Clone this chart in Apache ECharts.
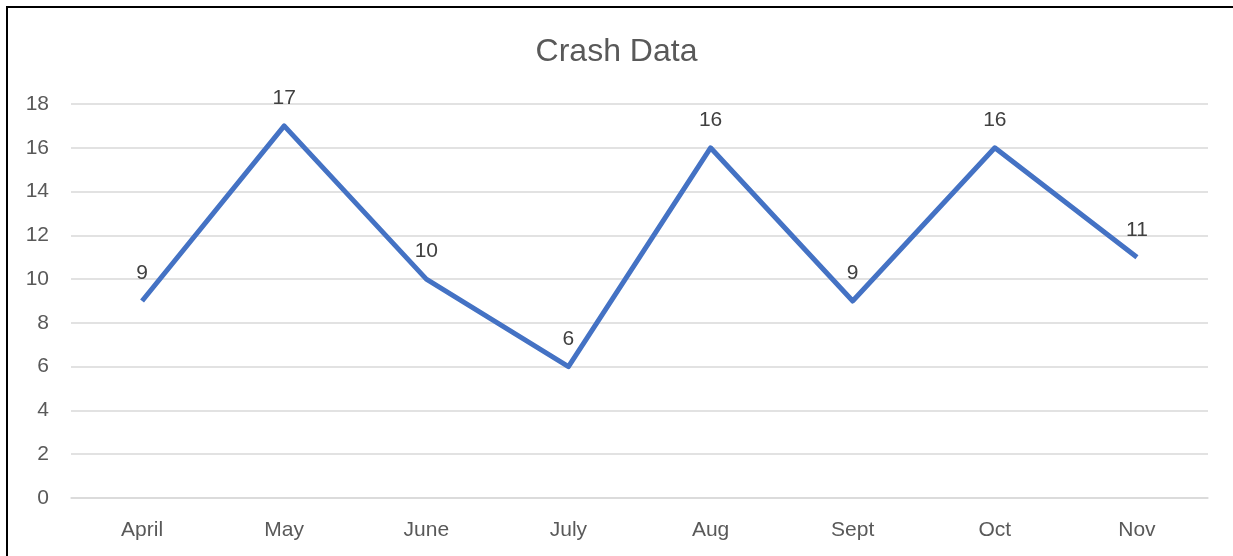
<!DOCTYPE html>
<html>
<head>
<meta charset="utf-8">
<script src="https://cdn.jsdelivr.net/npm/echarts@6/dist/echarts.min.js"></script>
<style>
html,body{margin:0;padding:0;background:#fff;}
#chart{position:absolute;left:0;top:0;width:1233px;height:556px;}
#frame{position:absolute;left:6px;top:6px;width:1233px;height:556px;border-top:2px solid #000;border-left:2px solid #000;pointer-events:none;}
</style>
</head>
<body>
<div id="chart"></div>
<div id="frame"></div>
<script>
const months = ['April','May','June','July','Aug','Sept','Oct','Nov'];
const crashes = [9,17,10,6,16,9,16,11];
const yTicks = {min:0, max:18, interval:2};
const titleText = 'Crash Data';

const FONT = 'Liberation Sans';
const chart = echarts.init(document.getElementById('chart'), null, {renderer:'canvas'});
chart.setOption({
  backgroundColor:'#ffffff',
  animation:false,
  title:{
    text:titleText, left:'center', top:31,
    textStyle:{fontFamily:FONT, fontSize:32, fontWeight:'normal', color:'#595959'}
  },
  grid:{left:71, right:25, top:104, bottom:58, containLabel:false},
  xAxis:{
    type:'category', data:months, boundaryGap:true,
    axisLine:{show:true, lineStyle:{color:'#D9D9D9', width:1.5}},
    axisTick:{show:false},
    axisLabel:{fontFamily:FONT, fontSize:21, color:'#595959', margin:22}
  },
  yAxis:{
    type:'value', min:yTicks.min, max:yTicks.max, interval:yTicks.interval,
    axisLine:{show:false}, axisTick:{show:false},
    splitLine:{lineStyle:{color:'#D9D9D9', width:1.5}},
    axisLabel:{fontFamily:FONT, fontSize:21, color:'#595959', margin:22}
  },
  series:[{
    type:'line', data:crashes, symbol:'circle', symbolSize:0, showSymbol:true,
    lineStyle:{color:'#4472C4', width:5, join:'round'},
    itemStyle:{color:'#4472C4'},
    label:{show:true, position:'top', distance:17, fontFamily:FONT, fontSize:21, color:'#404040'}
  }]
});
</script>
</body>
</html>
